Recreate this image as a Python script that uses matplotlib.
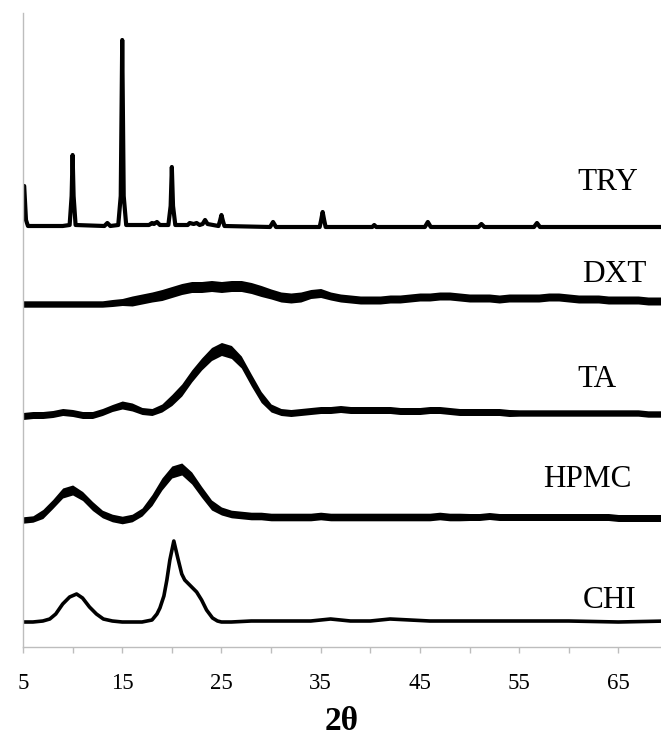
import matplotlib
matplotlib.use("Agg")
import matplotlib.pyplot as plt
import numpy as np

# ---------------- data ----------------
# common 1-degree sampling grid for the amorphous patterns
grid = [5, 6, 7, 8, 9, 10, 11, 12, 13, 14, 15, 16, 17, 18, 19, 20, 21, 22, 23, 24,
        25, 26, 27, 28, 29, 30, 31, 32, 33, 34, 35, 36, 37, 38, 39, 40, 41, 42, 43, 44,
        45, 46, 47, 48, 49, 50, 51, 52, 53, 54, 55, 56, 57, 58, 59, 60, 61, 62, 63, 64,
        65, 66, 67, 68, 69, 70]

dxt = [0, 0, 0, 0, 0, 0, 0, 0, 0, 1, 2, 3, 5, 7, 9, 12, 15, 17, 17, 18,
       17, 18, 18, 16, 13, 10, 7, 6, 7, 10, 11, 8, 6, 5, 4, 4, 4, 5, 5, 6,
       7, 7, 8, 8, 7, 6, 6, 6, 5, 6, 6, 6, 6, 7, 7, 6, 5, 5, 5, 4,
       4, 4, 4, 3, 3, 3]
dxt_noise = [3.2, 3.2, 3.2, 3.2, 3.2, 3.2, 3.2, 3.2, 3.2, 3.5, 3.5, 5, 5, 5, 5.5, 5.5, 5.5, 5.5, 5.5, 5.5,
             5.5, 5.5, 5.5, 5.5, 5.5, 5, 5, 5, 5, 4.5, 4.5, 4, 4, 4, 4, 4, 4, 4, 4, 4,
             4, 4, 4, 4, 4, 4, 4, 4, 4, 4, 4, 4, 4, 4, 4, 4, 4, 4, 4, 4,
             4, 4, 4, 4, 4, 4]

ta = [0, 1, 1, 2, 4, 3, 1, 1, 4, 8, 11, 9, 5, 4, 8, 16, 26, 40, 52, 62,
      67, 64, 54, 36, 19, 8, 4, 3, 4, 5, 6, 6, 7, 6, 6, 6, 6, 6, 5, 5,
      5, 6, 6, 5, 4, 4, 4, 4, 4, 3, 3, 3, 3, 3, 3, 3, 3, 3, 3, 3,
      3, 3, 3, 2, 2, 2]
ta_noise = [3.5, 3.5, 3.5, 3.5, 3.5, 3.5, 3.5, 3.5, 3.5, 3.5, 4, 4, 3.5, 3.5, 4, 5.5, 6, 6, 6, 6.5,
            6.5, 6.5, 6, 6, 5.5, 4, 3.5, 3.5, 3.5, 3.5, 3.5, 3.5, 3.5, 3.5, 3.5, 3.5, 3.5, 3.5, 3.5, 3.5,
            3.5, 3.5, 3.5, 3.5, 3.5, 3.5, 3.5, 3.5, 3.5, 3.5, 3.2, 3.2, 3.2, 3.2, 3.2, 3.2, 3.2, 3.2, 3.2, 3.2,
            3.2, 3.2, 3.2, 3.2, 3.2, 3.2]

hpmc = [0, 1, 6, 16, 27, 30, 24, 14, 6, 2, 0, 2, 8, 20, 36, 48, 51, 42, 28, 15,
        9, 6, 5, 4, 4, 3, 3, 3, 3, 3, 4, 3, 3, 3, 3, 3, 3, 3, 3, 3,
        3, 3, 4, 3, 3, 3, 3, 4, 3, 3, 3, 3, 3, 3, 3, 3, 3, 3, 3, 3,
        2, 2, 2, 2, 2, 2]
hpmc_noise = [3.2, 3.2, 4.5, 4.5, 5, 5, 4.5, 4.5, 3.8, 3.8, 3.8, 3.8, 4, 5.5, 6, 6, 6, 6, 5.5, 5,
              4, 3.8, 3.8, 3.8, 3.8, 3.8, 3.8, 3.8, 3.8, 3.8, 3.8, 3.8, 3.8, 3.8, 3.8, 3.8, 3.8, 3.8, 3.8, 3.8,
              3.8, 3.8, 3.8, 3.8, 3.8, 3.5, 3.5, 3.5, 3.5, 3.5, 3.5, 3.5, 3.5, 3.5, 3.5, 3.5, 3.5, 3.5, 3.5, 3.5,
              3.5, 3.5, 3.5, 3.5, 3.5, 3.5]

chi_x = [5, 6, 7, 7.7, 8.3, 9, 9.7, 10.4, 11, 11.7, 12.4, 13.1, 14, 15, 16, 17, 18, 18.5,
         18.8, 19.2, 19.5, 19.8, 20.2, 20.6, 21.0, 21.3, 21.8, 22.5, 23.0, 23.5, 24.1, 24.6,
         25, 26, 28, 30, 32, 34, 36, 38, 40, 42, 44, 46, 48, 50, 55, 60, 65, 70]
chi = [0, 0, 1, 3, 8, 18, 25, 28, 24, 15, 8, 3, 1, 0, 0, 0, 2, 8,
       14, 26, 42, 62, 81, 64, 48, 42, 37, 30, 22, 12, 4, 1,
       0, 0, 1, 1, 1, 1, 3, 1, 1, 3, 2, 1, 1, 1, 1, 1, 0, 1]

try_x = [5.0, 5.12, 5.3, 5.5, 9.0, 9.7, 9.9, 10.0, 10.1, 10.3, 13.2, 13.5, 13.8, 14.6,
         14.85, 15.0, 15.15, 15.4, 17.7, 18.0, 18.2, 18.5, 18.8, 19.65, 19.88, 20.0, 20.12,
         20.35, 21.6, 21.8, 22.2, 22.5, 22.8, 23.1, 23.35, 23.6, 24.7, 24.85, 25.0, 25.15,
         25.3, 29.9, 30.2, 30.5, 34.9, 35.05, 35.2, 35.35, 35.5, 40.2, 40.4, 40.6, 45.5,
         45.8, 46.1, 50.9, 51.2, 51.5, 56.5, 56.8, 57.1, 70.0]
try_y = [40, 40, 6, 0, 0, 1, 30, 71, 30, 1, 0, 3, 0, 1,
         30, 186, 30, 1, 1, 3, 2, 4, 1, 1, 20, 59, 20,
         1, 1, 3, 2, 3, 1, 2, 6, 2, 0, 5, 11, 5,
         0, -1, 4, -1, -1, 6, 14, 6, -1, -1, 1, -1, -1,
         4, -1, -1, 2, -1, -1, 3, -1, -1]

labels = ["TRY", "DXT", "TA", "HPMC", "CHI"]
xticks = [5, 15, 25, 35, 45, 55, 65]
minor_xticks = [10, 20, 30, 40, 50, 60]

# ---------------- layout (stacking offsets, label places) ----------------
off = {"TRY": 421, "DXT": 343, "TA": 231, "HPMC": 127, "CHI": 25}
label_pos = {"TRY": (60.9, 457), "DXT": (61.4, 365), "TA": (60.9, 260),
             "HPMC": (57.4, 160), "CHI": (61.4, 39)}

W, H = 661, 743
fig = plt.figure(figsize=(W / 100, H / 100), dpi=100)
ax = fig.add_axes([23 / W, (H - 647) / H, (W - 23) / W, (647 - 13) / H])
ax.set_xlim(5, 69.3)
ax.set_ylim(0, 634)

serif = "Liberation Serif"

# TRY - crystalline, thick line
ax.plot(try_x, np.array(try_y) + off["TRY"], color="black", lw=3.0,
        solid_joinstyle="round", solid_capstyle="round")

# amorphous noisy patterns: band + core line
for name, vals, noise in [("DXT", dxt, dxt_noise), ("TA", ta, ta_noise),
                          ("HPMC", hpmc, hpmc_noise)]:
    y = np.array(vals, dtype=float) + off[name]
    n = np.array(noise, dtype=float)
    ax.fill_between(grid, y - n, y + n, color="black", lw=0)
    ax.plot(grid, y, color="black", lw=1.2)

# CHI
ax.plot(chi_x, np.array(chi) + off["CHI"], color="black", lw=2.6,
        solid_joinstyle="round")

for name in labels:
    lx, ly = label_pos[name]
    ax.text(lx, ly, name, fontsize=22.5, family=serif, ha="left", va="baseline")

# axes styling
for s in ["top", "right"]:
    ax.spines[s].set_visible(False)
for s in ["left", "bottom"]:
    ax.spines[s].set_color("#bdbdbd")
    ax.spines[s].set_linewidth(1.0)
ax.set_yticks([])
ax.set_xticks(xticks)
ax.set_xticks(minor_xticks, minor=True)
ax.set_xticklabels([str(t) for t in xticks], fontsize=16.5, family=serif)
ax.tick_params(axis="x", which="both", direction="out", length=4.5, width=1.0,
               color="#bdbdbd", pad=14)

fig.text(342 / W, 1 - 722 / H, "2θ", fontsize=24, family=serif,
         fontweight="bold", ha="center", va="center")

fig.savefig("out.png", dpi=100)
